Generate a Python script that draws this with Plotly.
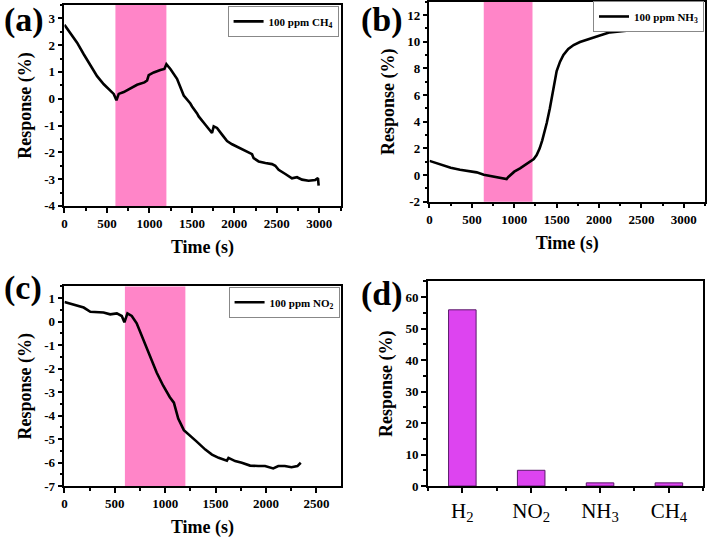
import plotly.graph_objects as go

# ---------------- data ----------------
# (a) 100 ppm CH4
t_a = [0, 71, 149, 227, 306, 384, 463, 541, 580, 612, 639, 698, 776, 855, 941, 973, 992,
       1051, 1129, 1176, 1200, 1247, 1325, 1404, 1482, 1502, 1561, 1580, 1659, 1737, 1757,
       1796, 1855, 1914, 1973, 2051, 2129, 2208, 2227, 2286, 2365, 2443, 2482, 2521, 2600,
       2678, 2737, 2796, 2874, 2953, 2984, 2992]
v_a = [2.76, 2.46, 2.09, 1.66, 1.23, 0.84, 0.54, 0.31, 0.18, -0.06, 0.18, 0.25, 0.39, 0.52,
       0.61, 0.68, 0.88, 0.98, 1.07, 1.11, 1.29, 1.11, 0.74, 0.12, -0.18, -0.29, -0.55, -0.66,
       -0.97, -1.28, -1.03, -1.09, -1.34, -1.58, -1.70, -1.83, -1.95, -2.07, -2.22, -2.34,
       -2.40, -2.44, -2.50, -2.65, -2.81, -2.97, -2.93, -3.02, -3.06, -3.03, -2.96, -3.24]

# (b) 100 ppm NH3
t_b = [0, 80, 165, 250, 360, 450, 557, 640, 700, 780, 850, 910, 930, 960, 1000, 1068, 1130,
       1186, 1230, 1264, 1300, 1330, 1360, 1383, 1420, 1460, 1500, 1540, 1580, 1637, 1700,
       1775, 1850, 1932, 2000, 2128, 2200, 2324, 2400, 2521, 2600, 2717, 2780, 2800, 2850,
       2913, 3000]
v_b = [1.06, 0.90, 0.72, 0.55, 0.40, 0.30, 0.20, 0.02, -0.05, -0.12, -0.18, -0.30, -0.15,
       0.05, 0.25, 0.50, 0.75, 0.98, 1.20, 1.50, 2.00, 2.60, 3.30, 3.90, 5.00, 6.50, 7.80,
       8.50, 9.00, 9.45, 9.75, 9.97, 10.15, 10.34, 10.45, 10.70, 10.75, 10.83, 10.90, 10.96,
       10.95, 11.00, 11.15, 11.20, 11.12, 11.13, 11.15]

# (c) 100 ppm NO2
t_c = [0, 59, 125, 191, 257, 322, 388, 454, 520, 569, 595, 625, 668, 717, 783, 849, 915, 980,
       1046, 1086, 1129, 1185, 1244, 1310, 1398, 1464, 1530, 1595, 1612, 1628, 1694, 1760,
       1842, 1924, 1990, 2072, 2122, 2187, 2253, 2312, 2345]
v_c = [0.84, 0.77, 0.70, 0.60, 0.42, 0.42, 0.39, 0.31, 0.35, 0.24, -0.03, 0.35, 0.24, -0.07,
       -0.77, -1.47, -2.17, -2.73, -3.22, -3.45, -4.13, -4.62, -4.83, -5.10, -5.45, -5.66,
       -5.80, -5.87, -5.92, -5.80, -5.94, -6.01, -6.13, -6.15, -6.15, -6.25, -6.15, -6.15,
       -6.20, -6.15, -6.01]

# gas-on windows (s)
window_a = [600, 1200]
window_b = [640, 1215]
window_c = [600, 1200]

# (d) responses
gases = ["H<sub>2</sub>", "NO<sub>2</sub>", "NH<sub>3</sub>", "CH<sub>4</sub>"]
responses = [56, 5, 1, 1]

names = ["100 ppm CH<sub>4</sub>", "100 ppm NH<sub>3</sub>", "100 ppm NO<sub>2</sub>"]

xt_a = [0, 500, 1000, 1500, 2000, 2500, 3000]
yt_a = [-4, -3, -2, -1, 0, 1, 2, 3]
yt_b = [-2, 0, 2, 4, 6, 8, 10, 12]
xt_c = [0, 500, 1000, 1500, 2000, 2500]
yt_c = [-7, -6, -5, -4, -3, -2, -1, 0, 1]
yt_d = [0, 10, 20, 30, 40, 50, 60]

# ---------------- figure ----------------
FONT = "Liberation Serif"
W, H = 710, 542

def px_x(p):
    return p / W

def px_y(p):
    return 1 - p / H

fig = go.Figure()
fig.add_trace(go.Scatter(x=t_a, y=v_a, mode="lines", name=names[0],
                         line=dict(color="black", width=2.6),
                         xaxis="x", yaxis="y", legend="legend"))
fig.add_trace(go.Scatter(x=t_b, y=v_b, mode="lines", name=names[1],
                         line=dict(color="black", width=2.6),
                         xaxis="x2", yaxis="y2", legend="legend2"))
fig.add_trace(go.Scatter(x=t_c, y=v_c, mode="lines", name=names[2],
                         line=dict(color="black", width=2.6),
                         xaxis="x3", yaxis="y3", legend="legend3"))
fig.add_trace(go.Bar(x=list(range(len(gases))), y=responses, width=0.4,
                     marker=dict(color="#dd44f0", line=dict(color="#5a1a6a", width=1)),
                     xaxis="x4", yaxis="y4", showlegend=False))

for xr, win in (("x", window_a), ("x2", window_b), ("x3", window_c)):
    yr = "y" if xr == "x" else "y" + xr[1:]
    fig.add_shape(type="rect", xref=xr, yref=yr + " domain", x0=win[0], x1=win[1],
                  y0=0, y1=1, fillcolor="#ff85c8", line=dict(width=0), layer="below")

tickfont = dict(family=FONT, size=13, color="black", weight="bold")
titlefont = dict(family=FONT, size=18, color="black", weight="bold")

def ax(domain, anchor, rng, tickvals=None, ticktext=None, minor_dtick=None, title=None,
       standoff=6, tfont=tickfont):
    d = dict(domain=domain, anchor=anchor, range=rng, showgrid=False, zeroline=False,
             showline=True, linecolor="black", linewidth=1.5, mirror=True,
             ticks="outside", ticklen=5, tickwidth=1.5, tickcolor="black",
             tickfont=tfont)
    if tickvals is not None:
        d.update(tickmode="array", tickvals=tickvals,
                 ticktext=ticktext if ticktext is not None else [str(v) for v in tickvals])
    if minor_dtick is not None:
        d["minor"] = dict(tickmode="linear", tick0=0, dtick=minor_dtick, ticks="outside",
                          ticklen=3, tickwidth=1.5, tickcolor="black", showgrid=False)
    if title:
        d["title"] = dict(text=title, font=titlefont, standoff=standoff)
    return d

xa_dom = [px_x(61.7), px_x(339)]
xb_dom = [px_x(428.3), px_x(705)]
xd_dom = [px_x(426.7), px_x(703.3)]
ya_dom = [px_y(209), px_y(5)]
yb_dom = [px_y(204.7), px_y(1.7)]
yc_dom = [px_y(493.3), px_y(290.7)]
yd_dom = [px_y(493.3), px_y(285.7)]

xd = ax(xd_dom, "y4", [-0.5, 3.5], list(range(len(gases))), gases, None, None,
        tfont=dict(family=FONT, size=21, color="black"))
xd["minor"] = dict(tickmode="linear", tick0=0.5, dtick=1, ticks="outside", ticklen=3,
                   tickwidth=1.5, tickcolor="black")

fig.update_layout(
    width=W, height=H, margin=dict(l=0, r=0, t=0, b=0),
    paper_bgcolor="white", plot_bgcolor="white",
    font=dict(family=FONT, color="black"),
    xaxis=ax(xa_dom, "y", [0, 3250], xt_a, None, 250, "Time (s)", 10),
    yaxis=ax(ya_dom, "x", [-4, 3.5], yt_a, [str(v) for v in yt_a], 0.5, "Response (%)", 8),
    xaxis2=ax(xb_dom, "y2", [0, 3250], xt_a, None, 250, "Time (s)", 10),
    yaxis2=ax(yb_dom, "x2", [-2, 13], yt_b, [str(v) for v in yt_b], 1, "Response (%)", 8),
    xaxis3=ax(xa_dom, "y3", [0, 2740], xt_c, None, 250, "Time (s)", 10),
    yaxis3=ax(yc_dom, "x3", [-7, 1.5], yt_c, [str(v) for v in yt_c], 0.5, "Response (%)", 8),
    xaxis4=xd,
    yaxis4=ax(yd_dom, "x4", [0, 65], yt_d, None, 5, "Response (%)", 8),
    bargap=0.5,
)

legfont = dict(family=FONT, size=11, color="black", weight="bold")
for key, xr, yt in (("legend", 337, 6), ("legend2", 704, 1), ("legend3", 338, 291)):
    fig.update_layout({key: dict(x=px_x(xr), y=px_y(yt), xanchor="right", yanchor="top",
                                 bgcolor="white", bordercolor="#888888", borderwidth=1,
                                 font=legfont, itemwidth=30, tracegroupgap=0)})

labels = [("(a)", 0, 0), ("(b)", 359, 0), ("(c)", 0, 272), ("(d)", 359, 278)]
for txt, x, y in labels:
    fig.add_annotation(text=txt, x=px_x(x), y=px_y(y), xref="paper", yref="paper",
                       xanchor="left", yanchor="top", showarrow=False, borderpad=0,
                       font=dict(family=FONT, size=34, color="black", weight="bold"))

fig.write_html("out.html")
